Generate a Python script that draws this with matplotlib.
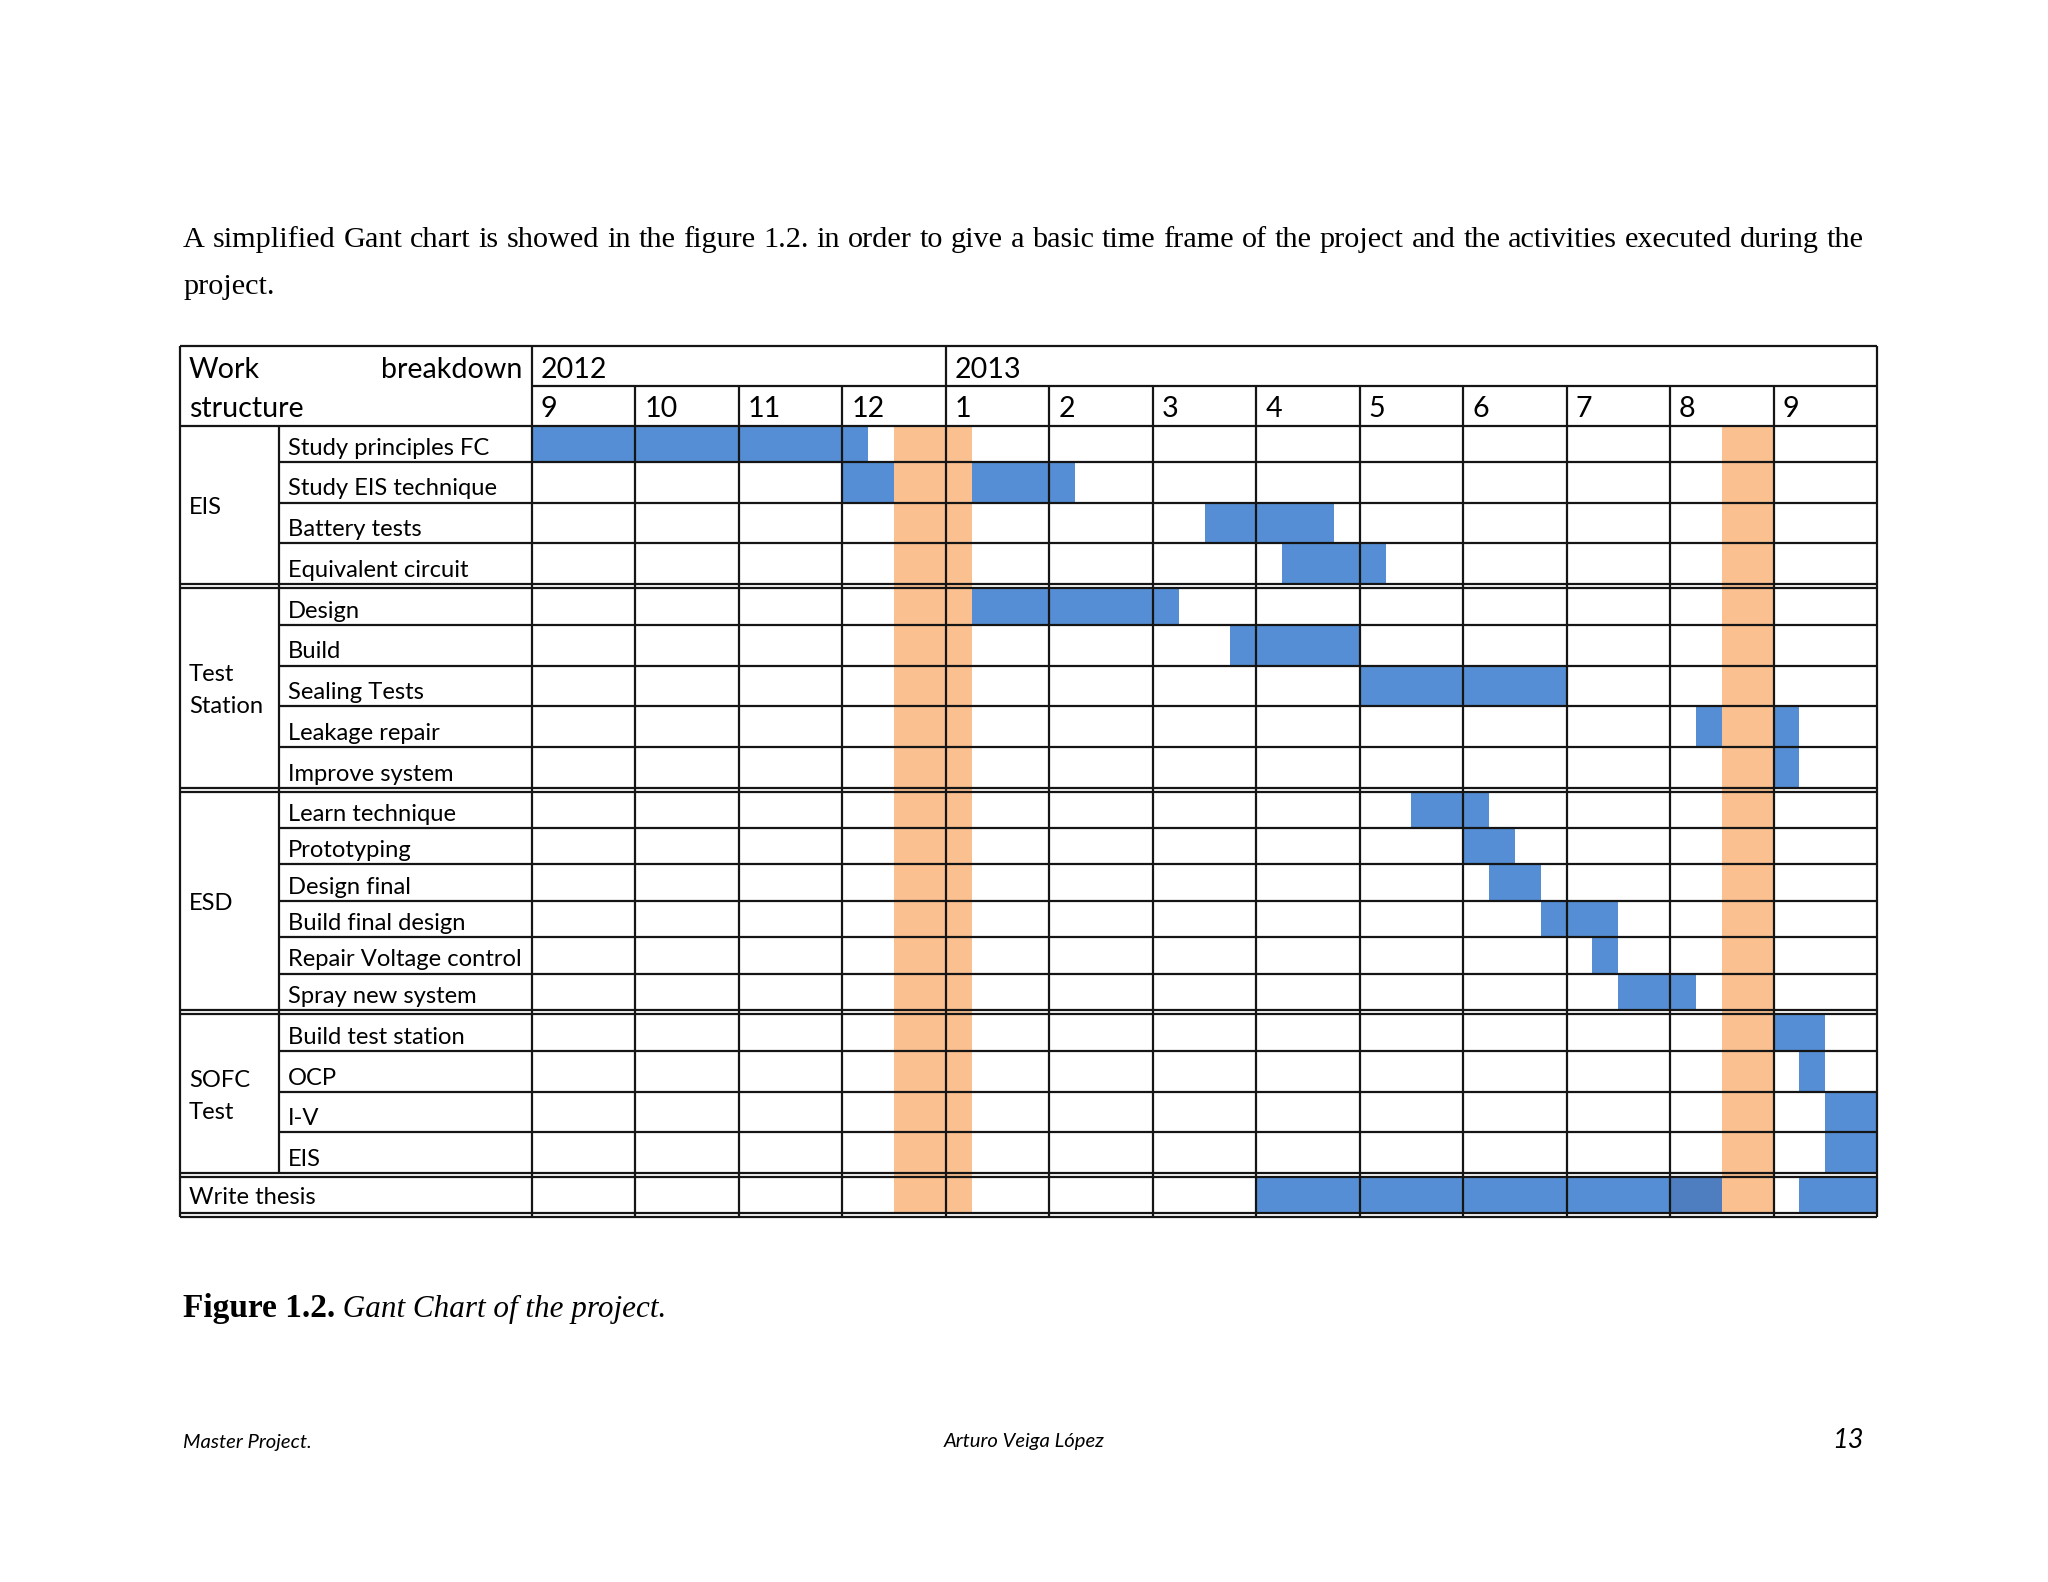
import matplotlib.pyplot as plt

# --- data -------------------------------------------------------------------
months = ["9", "10", "11", "12", "1", "2", "3", "4", "5", "6", "7", "8", "9"]
years = ["2012", "2013"]
year_first_month = [0, 4]

groups = ["EIS", "Test\nStation", "ESD", "SOFC\nTest", "Write thesis"]
tasks = [
    ["Study principles FC", "Study EIS technique", "Battery tests", "Equivalent circuit"],
    ["Design", "Build", "Sealing Tests", "Leakage repair", "Improve system"],
    ["Learn technique", "Prototyping", "Design final", "Build final design",
     "Repair Voltage control", "Spray new system"],
    ["Build test station", "OCP", "I-V", "EIS"],
    ["Write thesis"],
]

# bar segments, in months counted from the start of Sep 2012
seg_task = ["Study principles FC", "Study EIS technique", "Battery tests", "Equivalent circuit",
            "Design", "Build", "Sealing Tests", "Leakage repair", "Improve system",
            "Learn technique", "Prototyping", "Design final", "Build final design",
            "Repair Voltage control", "Spray new system",
            "Build test station", "OCP", "I-V", "EIS",
            "Write thesis", "Write thesis"]
seg_start = [0.0, 3.0, 6.5, 7.25, 4.25, 6.75, 8.0, 11.25, 12.0,
             8.5, 9.0, 9.25, 9.75, 10.25, 10.5,
             12.0, 12.25, 12.5, 12.5,
             7.0, 12.25]
seg_end = [3.25, 5.25, 7.75, 8.25, 6.25, 8.0, 10.0, 12.25, 12.25,
           9.25, 9.5, 9.75, 10.5, 10.5, 11.25,
           12.5, 12.5, 13.0, 13.0,
           12.0, 13.0]

# darker patch in the thesis bar
dark_task = ["Write thesis"]
dark_start = [11.0]
dark_end = [11.5]

# holidays (orange columns)
holiday_start = [3.5, 11.5]
holiday_end = [4.25, 12.0]

# --- layout (page pixels) ---------------------------------------------------
W, H, DPI = 2048, 1582, 200
TL, TR, M0 = 180, 1877, 532          # table left, right, first month column
LABEL_COL = 279
TOP, YEAR_SPLIT, HEAD_BOT = 346, 386.5, 426
row_h = [[36.3, 40.5, 40.5, 40.8],
         [37, 40.7, 40.7, 40.6, 41],
         [36.4] * 6,
         [37.2, 41, 40.6, 41],
         [36.3]]
gaps = [3.8, 3.8, 3.6, 3.6, 3.8]

BLUE = "#558ED5"
DARK = "#4F7EC0"
ORANGE = "#FAC090"
LC = "#151515"
LW = 0.8
SANS = "Lato"
SERIF = "Liberation Serif"
PT = 72 / DPI  # points per pixel

mw = (TR - M0) / len(months)
x0 = -(M0 - TL) / mw
xl = -(M0 - LABEL_COL) / mw

fig = plt.figure(figsize=(W / DPI, H / DPI), dpi=DPI)
fig.patch.set_facecolor("white")

# row geometry
rows = {}
blocks = []
y = HEAD_BOT
for g, names, hs, gap in zip(groups, tasks, row_h, gaps):
    start = y
    for n, h in zip(names, hs):
        rows[n] = (y, h)
        y += h
    blocks.append((g, start, y))
    y += gap
BOT = y

ax = fig.add_axes([TL / W, 1 - BOT / H, (TR - TL) / W, (BOT - TOP) / H])
ax.set_xlim(x0, len(months))
ax.set_ylim(BOT, TOP)
ax.axis("off")

# bars
ys = [rows[t][0] for t in seg_task]
hs = [rows[t][1] for t in seg_task]
ax.barh([a + b / 2 for a, b in zip(ys, hs)], [e - s for s, e in zip(seg_start, seg_end)],
        left=seg_start, height=hs, color=BLUE, zorder=1)
ys = [rows[t][0] for t in dark_task]
hs = [rows[t][1] for t in dark_task]
ax.barh([a + b / 2 for a, b in zip(ys, hs)], [e - s for s, e in zip(dark_start, dark_end)],
        left=dark_start, height=hs, color=DARK, zorder=1.5)

# holidays
last_row_end = blocks[-1][2]
ax.bar(holiday_start, last_row_end - HEAD_BOT,
       width=[e - s for s, e in zip(holiday_start, holiday_end)],
       bottom=HEAD_BOT, align="edge", color=ORANGE, zorder=2)

# grid
kw = dict(colors=LC, lw=LW, zorder=3, clip_on=False)
ax.hlines(TOP, x0, len(months), **kw)
ax.hlines(YEAR_SPLIT, 0, len(months), **kw)
ax.hlines(HEAD_BOT, x0, len(months), **kw)
for (g, start, end), gap, names in zip(blocks, gaps, tasks):
    for n in names[:-1]:
        ax.hlines(rows[n][0] + rows[n][1], xl, len(months), **kw)
    ax.hlines([end, end + gap], x0, len(months), **kw)
ax.vlines([x0, len(months)], TOP, BOT, **kw)
ax.vlines(year_first_month, TOP, BOT, **kw)
inner = [k for k in range(1, len(months)) if k not in year_first_month]
ax.vlines(inner, YEAR_SPLIT, BOT, **kw)
ax.vlines(xl, HEAD_BOT, blocks[-2][2], **kw)

# header text
hkw = dict(family=SANS, fontsize=10.3, va="baseline", textcoords="offset points")
ax.annotate("Work", (x0, 378.3), xytext=(9 * PT, 0), ha="left", **hkw)
ax.annotate("breakdown", (0, 378.3), xytext=(-10 * PT, 0), ha="right", **hkw)
ax.annotate("structure", (x0, 416.7), xytext=(9 * PT, 0), ha="left", **hkw)
for yr, k in zip(years, year_first_month):
    ax.annotate(yr, (k, 377.7), xytext=(9 * PT, 0), ha="left", **hkw)
for k, m in enumerate(months):
    ax.annotate(m, (k, 417.3), xytext=(9 * PT, 0), ha="left", **hkw)

# row labels
tkw = dict(family=SANS, fontsize=8.55, va="baseline", ha="left", textcoords="offset points")
for names in tasks[:-1]:
    for n in names:
        yt, h = rows[n]
        ax.annotate(n, (xl, yt + h - 7.3), xytext=(9 * PT, 0), **tkw)
for g, start, end in blocks:
    lines = g.split("\n")
    c = (start + end) / 2 + 9 - 16 * (len(lines) - 1)
    for i, s in enumerate(lines):
        ax.annotate(s, (x0, c + 32 * i), xytext=(9 * PT, 0), **tkw)

# page text
renderer = fig.canvas.get_renderer()


def justified(text, xa, xb, yb, **kw):
    words = text.split()
    objs = [fig.text(0, 1 - yb / H, w, va="baseline", **kw) for w in words]
    widths = [o.get_window_extent(renderer).width for o in objs]
    gap = ((xb - xa) - sum(widths)) / (len(words) - 1)
    pos = xa
    for o, w in zip(objs, widths):
        o.set_x(pos / W)
        pos += w + gap


para1 = ("A simplified Gant chart is showed in the figure 1.2. in order to give a basic "
         "time frame of the project and the activities executed during the")
justified(para1, 183, 1864, 247.3, family=SERIF, fontsize=10.9)
fig.text(183 / W, 1 - 293.5 / H, "project.", family=SERIF, fontsize=10.9, va="baseline")

cap = fig.text(183 / W, 1 - 1316.7 / H, "Figure 1.2.", family=SERIF, fontsize=12,
               weight="bold", va="baseline")
ital = fig.text(0, 0, " Gant Chart of the project.", family=SERIF, fontsize=11.2,
                style="italic", va="baseline")
bb = cap.get_window_extent(renderer)
ital.set_position((bb.x1 / W, 1 - 1316.7 / H))

fig.text(183 / W, 1 - 1448 / H, "Master Project.", family=SANS, fontsize=7.3,
         style="italic", va="baseline")
fig.text(1024 / W, 1 - 1447 / H, "Arturo Veiga López", family=SANS, fontsize=7.3,
         style="italic", va="baseline", ha="center")
fig.text(1864 / W, 1 - 1448 / H, "13", family=SANS, fontsize=9.8, style="italic",
         va="baseline", ha="right")

fig.savefig("out.png", dpi=DPI, facecolor="white")
